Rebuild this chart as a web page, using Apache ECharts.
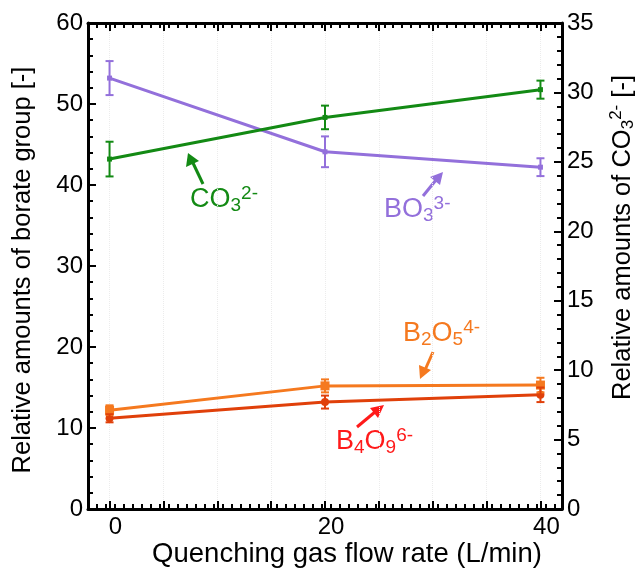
<!DOCTYPE html>
<html><head><meta charset="utf-8">
<script src="https://cdn.jsdelivr.net/npm/echarts@6/dist/echarts.min.js"></script>
<style>html,body{margin:0;padding:0;background:#fff}#c{width:635px;height:568px}</style>
</head><body><div id="c"></div>
<script>
const flowRate = [0, 20, 40];
const bo3 = [53.2, 44.1, 42.2];
const bo3Err = [2.1, 1.9, 1.1];
const co3 = [25.2, 28.2, 30.2];
const co3Err = [1.25, 0.85, 0.65];
const b2o5 = [12.2, 15.2, 15.3];
const b2o5Err = [0.6, 0.8, 0.9];
const b4o9 = [11.2, 13.2, 14.1];
const b4o9Err = [0.5, 0.8, 0.9];
const xLabels = [0, 20, 40];
const xMajor = [0, 5, 10, 15, 20, 25, 30, 35, 40];

const C_BO3 = '#9370DB', C_CO3 = '#138A14', C_B2O5 = '#F5791F', C_B4O9 = '#E0400A';
const FONT = 'Liberation Sans, Arial, sans-serif';
const TICK_FS = 24;

const xMinor = [];
for (let v = -2; v <= 42.001; v += 5/6) xMinor.push(+v.toFixed(3));

function line(name, vals, color, yIdx, symbol, size) {
  return {name, type:'line', xAxisIndex:0, yAxisIndex:yIdx,
    data: flowRate.map((x,i)=>[x, vals[i]]),
    lineStyle:{color, width:3}, itemStyle:{color}, symbol, symbolSize:size, z:3};
}
function err(vals, errs, color, yIdx) {
  return {type:'custom', xAxisIndex:0, yAxisIndex:yIdx, z:4,
    data: flowRate.map((x,i)=>[x, vals[i]-errs[i], vals[i]+errs[i]]),
    renderItem(params, api){
      const lo = api.coord([api.value(0), api.value(1)]);
      const hi = api.coord([api.value(0), api.value(2)]);
      const w = 4;
      const st = {stroke:color, lineWidth:2};
      return {type:'group', children:[
        {type:'line', shape:{x1:lo[0],y1:lo[1],x2:hi[0],y2:hi[1]}, style:st},
        {type:'line', shape:{x1:lo[0]-w,y1:lo[1],x2:lo[0]+w,y2:lo[1]}, style:st},
        {type:'line', shape:{x1:hi[0]-w,y1:hi[1],x2:hi[0]+w,y2:hi[1]}, style:st}
      ]};
    }};
}

const chart = echarts.init(document.getElementById('c'));
const axisLine = {show:true, onZero:false, lineStyle:{color:'#000', width:3}};
const noLine = {show:false, onZero:false};
const rich = {
  sub:{fontSize:17, fontFamily:FONT, padding:[12,0,0,0]},
  sup:{fontSize:17, fontFamily:FONT, padding:[0,0,12,0]}
};
function labelText(color) {
  return {fontSize:27, fontFamily:FONT, fill:color, rich: {
    sub:{fontSize:19, fontFamily:FONT, fill:color, padding:[12,0,0,0]},
    sup:{fontSize:19, fontFamily:FONT, fill:color, padding:[0,0,13,0]}
  }};
}
chart.setOption({
  animation:false,
  grid:{left:88, top:23, right:73, bottom:59, outerBoundsMode:'none', containLabel:false},
  xAxis:[
    {type:'value', min:-2, max:42, position:'bottom',
      name:'Quenching gas flow rate (L/min)', nameLocation:'middle', nameGap:31, nameMoveOverlap:false,
      nameTextStyle:{fontSize:27.5, color:'#000', fontFamily:FONT, padding:[0,0,0,44]},
      axisLine, splitLine:{show:true, customValues:xMajor, lineStyle:{color:'#ececec', type:'dotted'}},
      axisTick:{inside:true, length:8, lineStyle:{width:2, color:'#000'}, customValues:xMajor},
      axisLabel:{fontSize:TICK_FS, color:'#000', fontFamily:FONT, margin:6, customValues:xLabels, padding:[0,0,0,12]}},
    {type:'value', min:-2, max:42, position:'bottom', axisLine:noLine, splitLine:{show:false},
      axisTick:{inside:true, length:5, lineStyle:{width:2, color:'#000'}, customValues:xMinor},
      axisLabel:{show:false}},
    {type:'value', min:-2, max:42, position:'top', axisLine, splitLine:{show:false},
      axisTick:{inside:true, length:8, lineStyle:{width:2, color:'#000'}, customValues:xMajor},
      axisLabel:{show:false}},
    {type:'value', min:-2, max:42, position:'top', axisLine:noLine, splitLine:{show:false},
      axisTick:{inside:true, length:5, lineStyle:{width:2, color:'#000'}, customValues:xMinor},
      axisLabel:{show:false}}
  ],
  yAxis:[
    {type:'value', min:0, max:60, interval:10, position:'left',
      name:'Relative amounts of borate group [-]', nameLocation:'middle', nameGap:52, nameRotate:90, nameMoveOverlap:false,
      nameTextStyle:{fontSize:25.5, color:'#000', fontFamily:FONT, padding:[0,8,0,0]},
      axisLine, splitLine:{show:false},
      axisTick:{inside:true, length:8, lineStyle:{width:2, color:'#000'}},
      minorTick:{show:true, splitNumber:5, length:5, lineStyle:{width:2, color:'#000'}},
      axisLabel:{fontSize:TICK_FS, color:'#000', fontFamily:FONT, margin:5}},
    {type:'value', min:0, max:35, interval:5, position:'right',
      name:'Relative amounts of CO{sub|3}{sup|2-} [-]', nameLocation:'middle', nameGap:46, nameRotate:90, nameMoveOverlap:false,
      nameTextStyle:{fontSize:25.5, color:'#000', fontFamily:FONT, rich, padding:[0,0,0,57]},
      axisLine, splitLine:{show:false},
      axisTick:{inside:true, length:8, lineStyle:{width:2, color:'#000'}},
      minorTick:{show:true, splitNumber:5, length:5, lineStyle:{width:2, color:'#000'}},
      axisLabel:{fontSize:TICK_FS, color:'#000', fontFamily:FONT, margin:5}}
  ],
  series:[
    line('BO3', bo3, C_BO3, 0, 'rect', 5),
    line('CO3', co3, C_CO3, 1, 'rect', 5),
    line('B2O5', b2o5, C_B2O5, 0, 'rect', 9),
    line('B4O9', b4o9, C_B4O9, 0, 'circle', 8),
    err(bo3, bo3Err, C_BO3, 0),
    err(co3, co3Err, C_CO3, 1),
    err(b2o5, b2o5Err, C_B2O5, 0),
    err(b4o9, b4o9Err, C_B4O9, 0)
  ],
  graphic:[
    {type:'text', left:190, top:184, style:Object.assign({text:'CO{sub|3}{sup|2-}'}, labelText(C_CO3))},
    {type:'line', shape:{x1:203,y1:184,x2:193,y2:163}, style:{stroke:C_CO3, lineWidth:3}},
    {type:'polygon', shape:{points:[[188,153],[186,167],[199,161]]}, style:{fill:C_CO3}},
    {type:'text', left:384, top:194, style:Object.assign({text:'BO{sub|3}{sup|3-}'}, labelText(C_BO3))},
    {type:'line', shape:{x1:423,y1:196,x2:436,y2:180}, style:{stroke:C_BO3, lineWidth:3}},
    {type:'polygon', shape:{points:[[443,172],[430,177],[440,185]]}, style:{fill:C_BO3}},
    {type:'text', left:403, top:318, style:Object.assign({text:'B{sub|2}O{sub|5}{sup|4-}'}, labelText(C_B2O5))},
    {type:'line', shape:{x1:433,y1:352,x2:425,y2:370}, style:{stroke:C_B2O5, lineWidth:3}},
    {type:'polygon', shape:{points:[[420,379],[419,365],[431,370]]}, style:{fill:C_B2O5}},
    {type:'text', left:336, top:426, style:Object.assign({text:'B{sub|4}O{sub|9}{sup|6-}'}, labelText('#FF1A1A'))},
    {type:'line', shape:{x1:357,y1:427,x2:375,y2:412}, style:{stroke:'#FF1A1A', lineWidth:3}},
    {type:'polygon', shape:{points:[[384,405],[370,408],[378,418]]}, style:{fill:'#FF1A1A'}}
  ]
});
</script></body></html>
